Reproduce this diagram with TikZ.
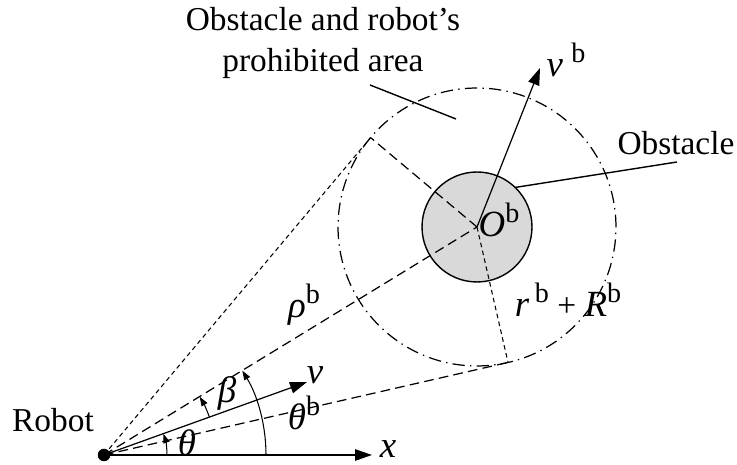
\documentclass[tikz,border=0pt]{standalone}
\usepackage{fontspec}
\setmainfont{Liberation Serif}
\usepackage{tikz}
\usetikzlibrary{arrows.meta,calc}

\newcommand{\supb}{\raisebox{0.42em}{\fontsize{16}{16}\selectfont b}}
\newcommand{\mi}[1]{{\fontsize{21}{21}\selectfont\textit{#1}}}

\begin{document}
\begin{tikzpicture}[
        x=0.02cm, y=0.02cm,
        font=\fontsize{19}{23}\selectfont,
        lbl/.style={inner sep=0pt, align=center},
        arr/.style={-{Triangle[length=3.4mm, width=2.3mm]}, line width=0.7pt},
        smallarr/.style={-{Triangle[length=1.9mm, width=1.3mm]}, line width=0.6pt},
        fine/.style={line width=0.6pt, dash pattern=on 2.6pt off 2pt},
        longdash/.style={line width=0.7pt, dash pattern=on 5.5pt off 3pt},
        lead/.style={line width=0.8pt}
    ]
        \useasboundingbox (0,0) rectangle (737,465);
        % robot, obstacle and prohibited zone
        \node[circle, fill=black, inner sep=0pt, minimum size=2.5mm] (robot) at (104,10) {};
        \node[circle, draw, line width=0.8pt, fill=gray!30, inner sep=0pt, outer sep=0pt, minimum size=2.2cm] (obs) at (477,238) {};
        \node[circle, draw, line width=0.7pt, dash pattern=on 7pt off 3pt on 0.8pt off 3pt, inner sep=0pt, outer sep=0pt, minimum size=5.56cm] (zone) at (477,238) {};
        \coordinate (tup) at (tangent cs:node=zone, point={(robot.center)}, solution=2);
        \coordinate (tlow) at (tangent cs:node=zone, point={(robot.center)}, solution=1);
        % tangents and radii
        \draw[fine] (robot.center) -- (tup);
        \draw[longdash] (robot.center) -- (tlow);
        \draw[longdash] (robot.center) -- (zone.center);
        \draw[longdash] (zone.center) -- (tup);
        \draw[fine] (zone.center) -- (tlow);
        % axes and velocities
        \coordinate (xend) at (372,10);
        \coordinate (vend) at (307,83);
        \coordinate (vbend) at (540,397);
        \draw[arr] (robot.center) -- (xend);
        \draw[arr] (robot.center) -- (vend);
        \draw[arr] (zone.center) -- (vbend);
        % angles
        \draw[smallarr] (robot.center) ++(0:63) arc[start angle=0, end angle=19.8, radius=63];
        \draw[smallarr] (robot.center) ++(19.8:112) arc[start angle=19.8, end angle=31.4, radius=112];
        \draw[smallarr] (robot.center) ++(0:162) arc[start angle=0, end angle=31.4, radius=162];
        % leaders
        \coordinate (obsline) at (677,303);
        \coordinate (zoneline) at (370,380);
        \coordinate (zonept) at (456,346);
        \draw[lead] (obs.46) -- (obsline);
        \draw[lead] (zoneline) -- (zonept);
        % labels
        \node[lbl] (robotlab) at (53,45) {Robot};
        \node[lbl] (xlab) at (388,16) {\mi{x}};
        \node[lbl] (vlab) at (315,90) {\mi{v}};
        \node[lbl] (betalab) at (227,72) {\mi{β}};
        \node[lbl] (thetalab) at (187,22) {\mi{θ}};
        \node[lbl] (thetablab) at (304,52) {\mi{θ}\supb};
        \node[lbl] (rholab) at (304,160) {\mi{ρ}\supb};
        \node[lbl] (oblab) at (499,245) {\mi{O}\supb};
        \node[lbl] (rrlab) at (568,165) {\mi{r}\,\supb\ + \mi{R}\supb};
        \node[lbl] (vblab) at (566,405) {\mi{v}\ \supb};
        \node[lbl] (obstlab) at (676,322) {Obstacle};
        \node[lbl] (zonelab) at (323,422) {Obstacle and robot's\\prohibited area};
    \end{tikzpicture}
\end{document}
